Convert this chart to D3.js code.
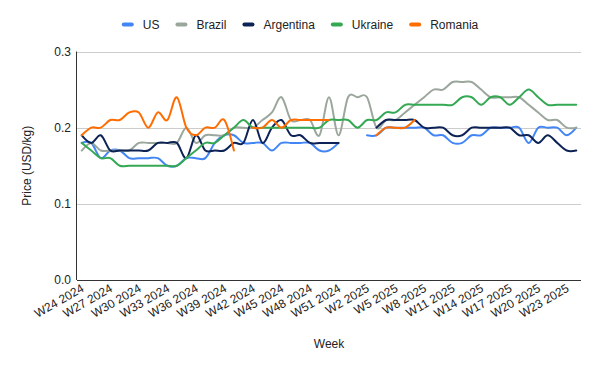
<!DOCTYPE html>
<html>
<head>
<meta charset="utf-8">
<script src="https://cdn.jsdelivr.net/npm/d3@7"></script>
<style>
  body { margin: 0; background: #fff; }
  text { font-family: "Liberation Sans", Arial, sans-serif; fill: #222; }
</style>
</head>
<body>
<div class="chart"></div>
<script>
var width = 600, height = 371,
    plotLeft = 77, plotRight = 581, plotTop = 51.5, plotBottom = 280;

// weeks W24 2024 .. W24 2025
var weeks = ["W24 2024","W25 2024","W26 2024","W27 2024","W28 2024","W29 2024","W30 2024","W31 2024",
  "W32 2024","W33 2024","W34 2024","W35 2024","W36 2024","W37 2024","W38 2024","W39 2024","W40 2024",
  "W41 2024","W42 2024","W43 2024","W44 2024","W45 2024","W46 2024","W47 2024","W48 2024","W49 2024",
  "W50 2024","W51 2024","W52 2024","W1 2025","W2 2025","W3 2025","W4 2025","W5 2025","W6 2025",
  "W7 2025","W8 2025","W9 2025","W10 2025","W11 2025","W12 2025","W13 2025","W14 2025","W15 2025",
  "W16 2025","W17 2025","W18 2025","W19 2025","W20 2025","W21 2025","W22 2025","W23 2025","W24 2025"];

var us = [0.18,0.18,0.16,0.17,0.17,0.16,0.16,0.16,0.16,0.15,0.15,0.16,0.16,0.16,0.18,0.19,0.19,0.18,
  0.18,0.18,0.17,0.18,0.18,0.18,0.18,0.17,0.17,0.18,null,null,0.19,0.19,0.20,0.20,0.20,0.20,0.20,
  0.19,0.19,0.18,0.18,0.19,0.19,0.20,0.20,0.20,0.20,0.18,0.20,0.20,0.20,0.19,0.20];
var brazil = [0.17,0.18,0.17,0.17,0.17,0.17,0.18,0.18,0.18,0.18,0.18,0.20,0.18,0.19,0.19,0.19,0.20,0.20,
  0.20,0.21,0.22,0.24,0.21,0.21,0.21,0.19,0.24,0.19,0.24,0.24,0.24,0.20,0.21,0.21,0.22,0.23,0.24,
  0.25,0.25,0.26,0.26,0.26,0.25,0.24,0.24,0.24,0.24,0.23,0.22,0.21,0.21,0.20,0.20];
var argentina = [0.19,0.18,0.19,0.17,0.17,0.17,0.17,0.17,0.18,0.18,0.18,0.16,0.19,0.17,0.17,0.17,0.18,0.18,
  0.21,0.18,0.20,0.21,0.19,0.19,0.18,0.18,0.18,0.18,null,null,null,0.20,0.21,0.21,0.21,0.21,0.20,
  0.20,0.20,0.19,0.19,0.20,0.20,0.20,0.20,0.20,0.19,0.19,0.18,0.19,0.18,0.17,0.17];
var ukraine = [0.18,0.17,0.16,0.16,0.15,0.15,0.15,0.15,0.15,0.15,0.15,0.16,0.17,0.18,0.18,0.19,0.20,0.21,
  0.20,0.20,0.20,0.20,0.20,0.20,0.20,0.20,0.21,0.21,0.21,0.20,0.21,0.21,0.22,0.22,0.23,0.23,0.23,
  0.23,0.23,0.23,0.24,0.24,0.23,0.24,0.24,0.23,0.24,0.25,0.24,0.23,0.23,0.23,0.23];
var romania = [0.19,0.20,0.20,0.21,0.21,0.22,0.22,0.20,0.22,0.21,0.24,0.20,0.19,0.20,0.20,0.21,0.17,null,
  0.20,0.20,0.21,0.20,0.21,0.21,0.21,0.21,0.21,null,null,null,null,0.19,0.20,0.20,0.20,0.21,null,
  null,null,null,null,null,null,null,null,null,null,null,null,null,null,null,null];

var seriesNames = ["US", "Brazil", "Argentina", "Ukraine", "Romania"];
var seriesValues = [us, brazil, argentina, ukraine, romania];
var colors = ["#4285f4", "#9ba79c", "#0d2356", "#34a853", "#ff6d01"];
var yTicks = [0, 0.1, 0.2, 0.3];

var svg = d3.select(".chart")
  .append("svg")
    .attr("width", width)
    .attr("height", height);

var x = d3.scalePoint().domain(weeks).range([plotLeft, plotRight]).padding(0.5);
var y = d3.scaleLinear().domain([0, 0.3]).range([plotBottom, plotTop]);

// gridlines + y labels
svg.append("g").selectAll("line")
  .data(yTicks.filter(function(d) { return d > 0; }))
  .enter().append("line")
    .attr("x1", plotLeft).attr("x2", plotRight)
    .attr("y1", function(d) { return Math.round(y(d)) + 0.5; })
    .attr("y2", function(d) { return Math.round(y(d)) + 0.5; })
    .style("stroke", "#cccccc");

svg.append("g").selectAll("text")
  .data(yTicks)
  .enter().append("text")
    .attr("x", 71)
    .attr("y", function(d) { return y(d); })
    .attr("dy", "0.35em")
    .attr("text-anchor", "end")
    .style("font-size", "12px")
    .text(function(d) { return d.toFixed(1); });

// x labels every 3rd week
svg.append("g").selectAll("text")
  .data(weeks.filter(function(d, i) { return i % 3 === 0; }))
  .enter().append("text")
    .attr("transform", function(d) { return "translate(" + (x(d) + 1) + ",287) rotate(-30)"; })
    .attr("dy", "0.35em")
    .attr("text-anchor", "end")
    .style("font-size", "12px")
    .text(function(d) { return d; });

// lines
var line = d3.line()
  .defined(function(d) { return d.v != null; })
  .x(function(d) { return x(d.w); })
  .y(function(d) { return y(d.v); })
  .curve(d3.curveCardinal.tension(0));

seriesValues.forEach(function(vals, k) {
  svg.append("path")
    .datum(vals.map(function(v, i) { return {w: weeks[i], v: v}; }))
    .attr("d", line)
    .style("fill", "none")
    .style("stroke", colors[k])
    .style("stroke-width", 2)
    .style("stroke-linejoin", "round")
    .style("stroke-linecap", "round");
});

// axes lines
svg.append("line")
  .attr("x1", plotLeft).attr("x2", plotRight).attr("y1", plotBottom + 0.5).attr("y2", plotBottom + 0.5)
  .style("stroke", "#333");
svg.append("line")
  .attr("x1", plotLeft - 0.5).attr("x2", plotLeft - 0.5).attr("y1", plotTop).attr("y2", plotBottom)
  .style("stroke", "#333");

// axis titles
svg.append("text")
  .attr("x", 329).attr("y", 348)
  .attr("text-anchor", "middle")
  .style("font-size", "12px")
  .text("Week");
svg.append("text")
  .attr("transform", "translate(31," + ((plotTop + plotBottom) / 2) + ") rotate(-90)")
  .attr("text-anchor", "middle")
  .style("font-size", "12px")
  .text("Price (USD/kg)");

// legend, centred on the page
var legend = svg.append("g");
var lx = 0;
seriesNames.forEach(function(name, k) {
  legend.append("rect")
    .attr("x", lx).attr("y", 22.5)
    .attr("width", 12).attr("height", 4).attr("rx", 2)
    .style("fill", colors[k]);
  var t = legend.append("text")
    .attr("x", lx + 21).attr("y", 29)
    .style("font-size", "12px")
    .text(name);
  lx += 21 + t.node().getComputedTextLength() + 16;
});
lx -= 16;
legend.attr("transform", "translate(" + (300 - lx / 2) + ",0)");
</script>
</body>
</html>
